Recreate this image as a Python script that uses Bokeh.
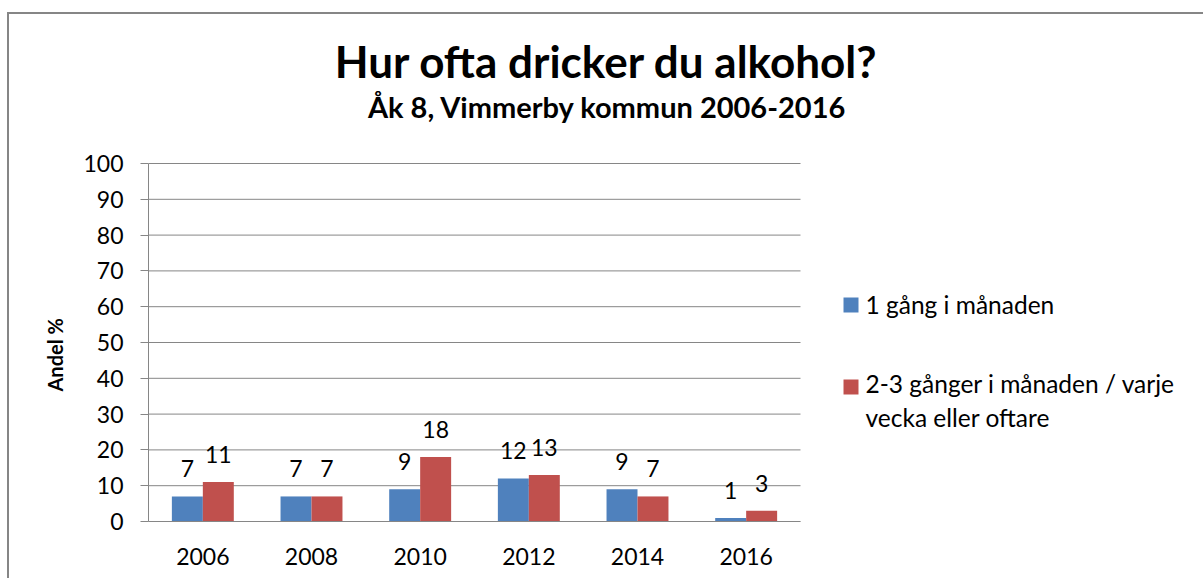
from bokeh.plotting import figure
from bokeh.models import ColumnDataSource, Range1d, FixedTicker, Label, BoxAnnotation, Title
from bokeh.transform import dodge
from bokeh.core.properties import value
from bokeh.embed import file_html
from bokeh.resources import INLINE

# ---- data ----
years = ["2006", "2008", "2010", "2012", "2014", "2016"]
monthly = [7, 7, 9, 12, 9, 1]
weekly = [11, 7, 18, 13, 7, 3]
legend_lines = ["1 gång i månaden", "2-3 gånger i månaden / varje", "vecka eller oftare"]
colors = ["#4F81BD", "#C0504D"]
y_ticks = [0, 10, 20, 30, 40, 50, 60, 70, 80, 90, 100]
title_text = "Hur ofta dricker du alkohol?"
subtitle_text = "Åk 8, Vimmerby kommun 2006-2016"
y_label = "Andel  %"

FONT = "Lato"
GRID = "#868686"
W, H = 1203, 578
FL, FB = 148, 521          # frame left / bottom (page px); frame runs to the top and right edges
AX_R, AX_T = 800, 163      # where the value area ends (right) and where 100 sits (top)
BASE_FIX = 0.38            # em shift to put the alphabetic baseline where wanted

n = len(years)
xs = list(range(n))
y_max = 100 * FB / (FB - AX_T)
x_min = -0.5
x_max = x_min + n * (W - FL) / (AX_R - FL)

p = figure(width=W, height=H, x_range=Range1d(x_min, x_max), y_range=Range1d(0, y_max),
           output_backend="svg", toolbar_location=None, title=None,
           min_border_left=FL, min_border_right=0, min_border_top=0, min_border_bottom=H - FB)
p.outline_line_color = None
p.border_fill_color = None
p.background_fill_color = None
p.styles = {
    "background-image": "linear-gradient(#868686, #868686), linear-gradient(#868686, #868686)",
    "background-size": "2px 566px, 1196px 2px",
    "background-position": "7px 12px, 7px 12px",
    "background-repeat": "no-repeat",
}

# grid lines limited to the value area
p.xgrid.visible = False
p.ygrid.visible = False
p.segment(x0=x_min, x1=x_min + n, y0=y_ticks, y1=y_ticks, line_color=GRID, line_width=1)

bw = 0.285
px_per_unit = (FB - AX_T) / 100.0
lab_off = (19 + BASE_FIX * 23) / px_per_unit
src = ColumnDataSource(dict(
    x=xs, s1=monthly, s2=weekly,
    l1=[v + lab_off for v in monthly], l2=[v + lab_off for v in weekly],
    t1=[str(v) for v in monthly], t2=[str(v) for v in weekly]))

p.vbar(x=dodge("x", -bw / 2), top="s1", width=bw, source=src, fill_color=colors[0], line_color=None)
p.vbar(x=dodge("x", bw / 2), top="s2", width=bw, source=src, fill_color=colors[1], line_color=None)
for lx, ly, lt in ((-bw / 2, "l1", "t1"), (bw / 2, "l2", "t2")):
    p.text(x=dodge("x", lx), y=ly, text=lt, source=src,
           text_font=value(FONT), text_font_size="23px", text_color="black",
           text_align="center", text_baseline="alphabetic")

# axes
p.xaxis.ticker = FixedTicker(ticks=xs)
p.xaxis.major_label_overrides = {i: y for i, y in zip(xs, years)}
p.xaxis.bounds = (x_min, x_min + n)
p.yaxis.ticker = FixedTicker(ticks=y_ticks)
p.yaxis.bounds = (0, 100)

for ax in (p.xaxis[0], p.yaxis[0]):
    ax.axis_line_color = GRID
    ax.major_tick_line_color = GRID
    ax.minor_tick_line_color = None
    ax.major_tick_in = 0
    ax.major_label_text_font = FONT
    ax.major_label_text_font_size = "23px"
    ax.major_label_text_color = "black"

p.yaxis.major_tick_out = 8
p.yaxis.major_label_standoff = 17
p.xaxis.major_tick_out = 0
p.xaxis.major_label_standoff = 26

# value-axis title, centred on the 0..100 span (starts 130 px above the frame bottom)
p.add_layout(Title(text=y_label, align="left", offset=130, vertical_align="bottom", standoff=28,
                   text_font=FONT, text_font_size="20px", text_font_style="bold",
                   text_color="black"), "left")


def lab(text, px, base, size, bold=False, align="left"):
    # px, base: page pixels (base = wanted baseline); converted to frame-relative screen units
    py = base - BASE_FIX * size
    p.add_layout(Label(x=px - FL, y=FB - py, x_units="screen", y_units="screen", text=text,
                       text_font=FONT, text_font_size=f"{size}px",
                       text_font_style="bold" if bold else "normal",
                       text_align=align, text_baseline="alphabetic", text_color="black"))


lab(title_text, 606, 77, 44, bold=True, align="center")
lab(subtitle_text, 607, 117, 29, bold=True, align="center")

# legend
for (t, b), c in zip([(297, 312), (379, 394)], colors):
    p.add_layout(BoxAnnotation(left=843 - FL, right=858 - FL, top=FB - t, bottom=FB - b,
                               left_units="screen", right_units="screen",
                               top_units="screen", bottom_units="screen",
                               fill_color=c, fill_alpha=1, line_color=None))
for txt, base in zip(legend_lines, (313, 392, 426)):
    lab(txt, 865, base, 24.5)

open("out.html", "w").write(file_html(p, INLINE))
